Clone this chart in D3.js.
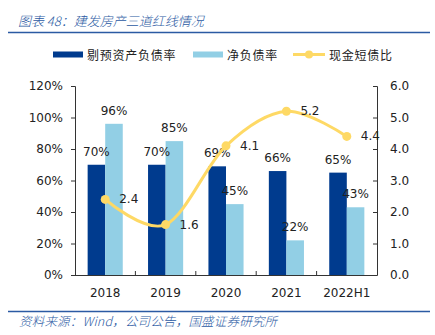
<!DOCTYPE html>
<html><head><meta charset="utf-8">
<script src="https://cdn.jsdelivr.net/npm/d3@7"></script>
<style>
html,body{margin:0;padding:0;background:#fff;}
svg{display:block;}
</style></head>
<body>
<svg id="chart" width="435" height="335"></svg>
<script>
const categories = ["2018","2019","2020","2021","2022H1"];
const seriesNames = ["剔预资产负债率","净负债率","现金短债比"];
const assetLiab = [70,70,69,66,65];
const netDebt = [96,85,45,22,43];
const cashShort = [2.4,1.6,4.1,5.2,4.4];
const leftTicks = [0,20,40,60,80,100,120];
const rightTicks = [0,1,2,3,4,5,6];
const titleText = "图表 48：建发房产三道红线情况";
const sourceText = "资料来源：Wind，公司公告，国盛证券研究所";

const C_DARK = "#003b8e", C_LIGHT = "#92cfe5", C_YEL = "#fed965", C_BLUE = "#2b5aa3";
const FONT = "'DejaVu Sans', Verdana, sans-serif";
const CJK = "'Noto Sans CJK SC', sans-serif";

const svg = d3.select("#chart");
const L = 75, R = 377, T = 86, B = 275;

const x0 = d3.scaleBand().domain(categories).range([L, R]).padding(0);
const x1 = d3.scaleBand().domain(["a","b"]).range([0, x0.bandwidth()]).paddingInner(0).paddingOuter(0.72);
const yL = d3.scaleLinear().domain([0,120]).range([B, T]);
const yR = d3.scaleLinear().domain([0,6]).range([B, T]);

// title
svg.append("text").attr("x", 18).attr("y", 20).attr("dominant-baseline","central")
  .attr("font-family", CJK).attr("font-size", 13).attr("font-style","italic").attr("font-weight",300)
  .attr("letter-spacing", 0).attr("fill", C_BLUE).text(titleText);
svg.append("line").attr("x1",8).attr("x2",430).attr("y1",32.5).attr("y2",32.5)
  .attr("stroke", C_BLUE).attr("stroke-width",1.6);

// legend
const lg = svg.append("g").attr("font-family", CJK).attr("font-size", 12).attr("fill","#222");
lg.append("rect").attr("x",53).attr("y",51.5).attr("width",30).attr("height",6).attr("fill",C_DARK);
lg.append("text").attr("x",87).attr("y",54.5).attr("dominant-baseline","central").attr("letter-spacing",0.75).text(seriesNames[0]);
lg.append("rect").attr("x",193).attr("y",51.5).attr("width",30).attr("height",6).attr("fill",C_LIGHT);
lg.append("text").attr("x",227).attr("y",54.5).attr("dominant-baseline","central").attr("letter-spacing",0.75).text(seriesNames[1]);
lg.append("line").attr("x1",293).attr("x2",325).attr("y1",54.5).attr("y2",54.5).attr("stroke",C_YEL).attr("stroke-width",3);
lg.append("circle").attr("cx",309).attr("cy",54.5).attr("r",4).attr("fill",C_YEL);
lg.append("text").attr("x",329).attr("y",54.5).attr("dominant-baseline","central").attr("letter-spacing",0.75).text(seriesNames[2]);

// bars
const bars = svg.append("g");
categories.forEach((c,i)=>{
  const bx = x0(c);
  bars.append("rect").attr("x", bx + x1("a")).attr("width", x1.bandwidth())
    .attr("y", yL(assetLiab[i])).attr("height", B - yL(assetLiab[i])).attr("fill", C_DARK);
  bars.append("rect").attr("x", bx + x1("b")).attr("width", x1.bandwidth())
    .attr("y", yL(netDebt[i])).attr("height", B - yL(netDebt[i])).attr("fill", C_LIGHT);
});

// axes
const axisCol = "#333";
const gL = svg.append("g").attr("transform",`translate(${L},0)`)
  .call(d3.axisLeft(yL).tickValues(leftTicks).tickSize(4).tickFormat(d=>d+"%"));
const gR = svg.append("g").attr("transform",`translate(${R},0)`)
  .call(d3.axisRight(yR).tickValues(rightTicks).tickSize(-4).tickPadding(13).tickFormat(d3.format(".1f")));
[gL,gR].forEach(g=>{
  g.selectAll("path").attr("stroke",axisCol).attr("stroke-width",1);
  g.selectAll("line").attr("stroke",axisCol);
  g.selectAll("text").attr("font-family",FONT).attr("font-size",12).attr("fill","#222");
});
gL.selectAll("text").attr("x",-12);
// x axis
const gx = svg.append("g").attr("transform",`translate(0,${B})`)
  .call(d3.axisBottom(x0).tickSize(0).tickPadding(13));
gx.select("path").attr("stroke",axisCol).attr("d",`M${L},0.5H${R}`);
gx.selectAll("text").attr("font-family",FONT).attr("font-size",12).attr("fill","#222");
categories.slice(1).forEach(c=>{
  gx.append("line").attr("x1",x0(c)).attr("x2",x0(c)).attr("y1",0).attr("y2",-4).attr("stroke",axisCol);
});

// bar labels
const lab = svg.append("g").attr("font-family",FONT).attr("font-size",12).attr("fill","#222").attr("text-anchor","middle");
categories.forEach((c,i)=>{
  lab.append("text").attr("x", x0(c)+x1("a")+x1.bandwidth()/2).attr("y", yL(assetLiab[i])-13)
    .attr("dominant-baseline","central").text(assetLiab[i]+"%");
  lab.append("text").attr("x", x0(c)+x1("b")+x1.bandwidth()/2).attr("y", yL(netDebt[i])-13)
    .attr("dominant-baseline","central").text(netDebt[i]+"%");
});

// line
const cx = c => x0(c) + x0.bandwidth()/2;
const line = d3.line().x((d,i)=>cx(categories[i])).y(d=>yR(d)).curve(d3.curveCardinal.tension(0));
svg.append("path").datum(cashShort).attr("d",line).attr("fill","none").attr("stroke",C_YEL).attr("stroke-width",3);
svg.append("g").selectAll("circle").data(cashShort).join("circle")
  .attr("cx",(d,i)=>cx(categories[i])).attr("cy",d=>yR(d)).attr("r",4.5).attr("fill",C_YEL);
svg.append("g").attr("font-family",FONT).attr("font-size",12).attr("fill","#222")
  .selectAll("text").data(cashShort).join("text")
  .attr("x",(d,i)=>cx(categories[i])+14).attr("y",d=>yR(d)).attr("dominant-baseline","central")
  .text(d=>d3.format(".1f")(d));

// footer
svg.append("line").attr("x1",8).attr("x2",430).attr("y1",311.5).attr("y2",311.5)
  .attr("stroke", C_BLUE).attr("stroke-width",1.6);
svg.append("text").attr("x",19).attr("y",320).attr("dominant-baseline","central")
  .attr("font-family", CJK).attr("font-size", 12.5).attr("font-style","italic").attr("font-weight",300)
  .attr("letter-spacing", 0.2).attr("fill", C_BLUE).text(sourceText);
</script>
</body></html>
